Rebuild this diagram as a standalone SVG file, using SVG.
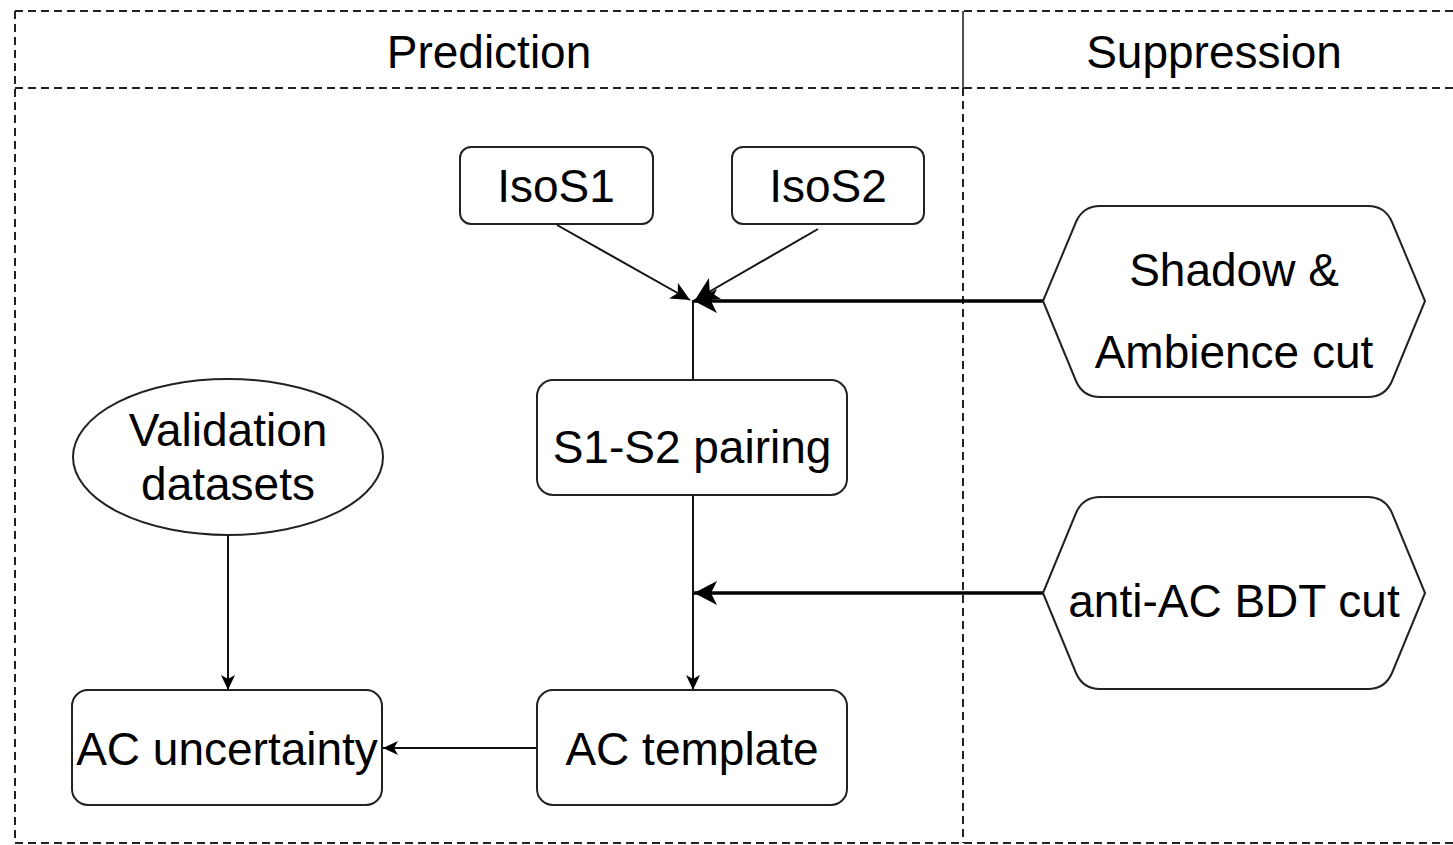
<svg xmlns="http://www.w3.org/2000/svg" width="1453" height="845" viewBox="0 0 1453 845">
  <style>
    .frame { fill: none; stroke: #222; stroke-width: 2; stroke-dasharray: 8 5; }
    .solid { fill: none; stroke: #222; stroke-width: 1.6; }
    .box { fill: #fff; stroke: #222; stroke-width: 2; }
    .label { font-family: "Liberation Sans", Arial, Helvetica, sans-serif; font-size: 46px; fill: #000; text-anchor: middle; }
    .thin { fill: none; stroke: #111; stroke-width: 2; }
    .thick { fill: none; stroke: #000; stroke-width: 3.6; }
  </style>
  <defs>
    <marker id="arrow-thin" markerUnits="userSpaceOnUse" viewBox="0 -8 16 16" refX="15" refY="0" markerWidth="16" markerHeight="16" orient="auto">
      <path d="M0,-7 L15,0 L0,7 L4,0 Z" fill="#000"/>
    </marker>
    <marker id="arrow-mid" markerUnits="userSpaceOnUse" viewBox="0 -10 20 20" refX="19" refY="0" markerWidth="20" markerHeight="20" orient="auto">
      <path d="M0,-9 L19,0 L0,9 L5,0 Z" fill="#000"/>
    </marker>
    <marker id="arrow-thick" markerUnits="userSpaceOnUse" viewBox="0 -13 24 26" refX="23" refY="0" markerWidth="24" markerHeight="26" orient="auto">
      <path d="M0,-12 L23,0 L0,12 L6,0 Z" fill="#000"/>
    </marker>
  </defs>

  <!-- swimlane frame -->
  <g id="lanes">
    <line class="frame" x1="15" y1="11" x2="1453" y2="11"/>
    <line class="frame" x1="15" y1="88" x2="1453" y2="88"/>
    <line class="frame" x1="15" y1="843" x2="1453" y2="843"/>
    <line class="frame" x1="15" y1="11" x2="15" y2="843"/>
    <line class="solid" x1="963" y1="11" x2="963" y2="88"/>
    <line class="frame" x1="963" y1="88" x2="963" y2="843"/>
    <text class="label" x="489" y="68">Prediction</text>
    <text class="label" x="1214" y="68">Suppression</text>
  </g>

  <!-- connectors -->
  <g id="connectors">
    <line class="thin" x1="557" y1="225" x2="690" y2="300" marker-end="url(#arrow-mid)"/>
    <line class="thin" x1="818" y1="229" x2="695" y2="300" marker-end="url(#arrow-thick)"/>
    <line class="thick" x1="1043" y1="301" x2="694" y2="301" marker-end="url(#arrow-thick)"/>
    <line class="thin" x1="693" y1="300" x2="693" y2="380"/>
    <line class="thin" x1="693" y1="495" x2="693" y2="690" marker-end="url(#arrow-thin)"/>
    <line class="thick" x1="1043" y1="593" x2="694" y2="593" marker-end="url(#arrow-thick)"/>
    <line class="thin" x1="537" y1="748" x2="383" y2="748" marker-end="url(#arrow-thin)"/>
    <line class="thin" x1="228" y1="535" x2="228" y2="690" marker-end="url(#arrow-thin)"/>
  </g>

  <g id="isos1">
    <rect class="box" x="460" y="147" width="193" height="77" rx="11"/>
    <text class="label" x="556" y="202">IsoS1</text>
  </g>
  <g id="isos2">
    <rect class="box" x="732" y="147" width="192" height="77" rx="11"/>
    <text class="label" x="828" y="202">IsoS2</text>
  </g>
  <g id="shadow-ambience-cut">
    <path class="box" stroke-linejoin="round" d="M 1043,301 L 1076,222 Q 1083,206 1100,206 L 1368,206 Q 1385,206 1392,222 L 1425,301 L 1392,381 Q 1385,397 1368,397 L 1100,397 Q 1083,397 1076,381 Z"/>
    <text class="label" x="1234" y="286">Shadow &amp;</text>
    <text class="label" x="1234" y="368">Ambience cut</text>
  </g>
  <g id="s1-s2-pairing">
    <rect class="box" x="537" y="380" width="310" height="115" rx="16"/>
    <text class="label" x="692" y="463">S1-S2 pairing</text>
  </g>
  <g id="validation-datasets">
    <ellipse class="box" cx="228" cy="457" rx="155" ry="78"/>
    <text class="label" x="228" y="446">Validation</text>
    <text class="label" x="228" y="500">datasets</text>
  </g>
  <g id="anti-ac-bdt-cut">
    <path class="box" stroke-linejoin="round" d="M 1043,593 L 1076,513 Q 1083,497 1100,497 L 1368,497 Q 1385,497 1392,513 L 1425,593 L 1392,673 Q 1385,689 1368,689 L 1100,689 Q 1083,689 1076,673 Z"/>
    <text class="label" x="1234" y="617">anti-AC BDT cut</text>
  </g>
  <g id="ac-template">
    <rect class="box" x="537" y="690" width="310" height="115" rx="16"/>
    <text class="label" x="692" y="765">AC template</text>
  </g>
  <g id="ac-uncertainty">
    <rect class="box" x="72" y="690" width="310" height="115" rx="16"/>
    <text class="label" x="227" y="765">AC uncertainty</text>
  </g>
</svg>
